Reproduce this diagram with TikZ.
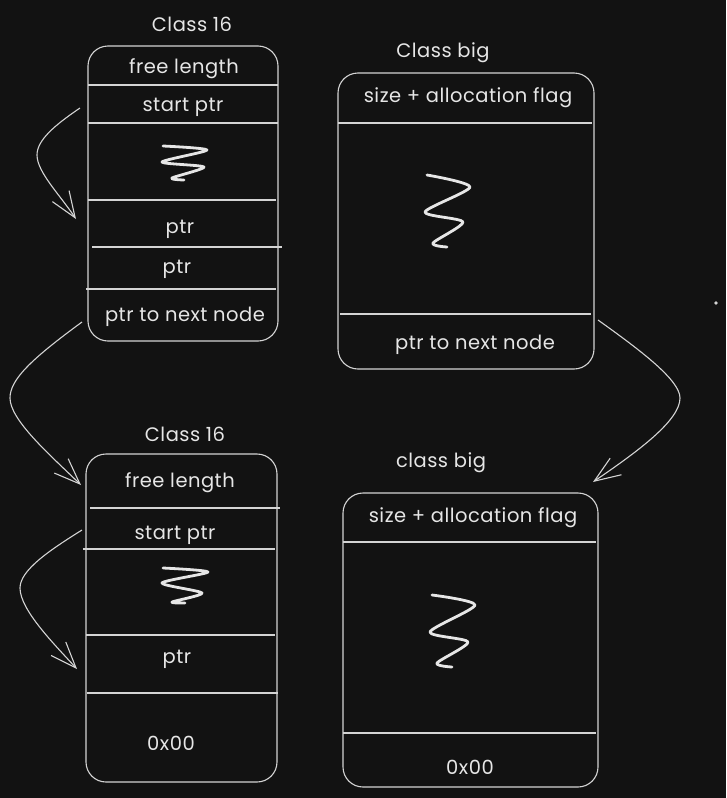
\documentclass[tikz,border=0pt]{standalone}
\usepackage{fontspec}
\setmainfont{Poppins}[LetterSpace=2.5]
\usetikzlibrary{arrows.meta}
\definecolor{bg}{HTML}{121212}
\definecolor{ink}{HTML}{D4D4D4}
\definecolor{txt}{HTML}{E6E6E6}
\tikzset{
  box/.style={draw=ink, line width=1.1pt, rounded corners=20pt, inner sep=0pt, fill=none},
  divider/.style={draw=ink, line width=1.1pt},
  lbl/.style={text=txt, font=\fontsize{19.5}{21}\selectfont, inner sep=0pt},
  squig/.style={draw=txt, line width=2.8pt, line cap=round, line join=round},
  link/.style={draw=ink, line width=1.1pt, -{Straight Barb[length=26pt,width=20pt,line width=1.1pt]}},
}
\begin{document}
\begin{tikzpicture}[x=1pt,y=-1pt]
\fill[bg] (0,0) rectangle (726,798);
\useasboundingbox (0,0) rectangle (726,798);

% ---------- Box 1: Class 16 (top) ----------
\node[box, minimum width=190pt, minimum height=295pt] (b1) at (183,193.5) {};
\node[lbl] (t1) at (192,24) {Class 16};
\draw[divider] (88,85) -- (278,85);
\draw[divider] (88,123) -- (278,123);
\draw[divider] (88,200) -- (276,200);
\draw[divider] (92,247) -- (282,247);
\draw[divider] (86,289) -- (276,289);
\node[lbl] (b1a) at (184,69) {free length};
\node[lbl] (b1b) at (183,107) {start ptr};
\node[lbl] (b1c) at (180,229) {ptr};
\node[lbl] (b1d) at (177,269) {ptr};
\node[lbl] (b1e) at (185,317) {ptr to next node};
\draw[squig] plot[smooth, tension=0.45] coordinates {(163,146) (207,150) (162,162) (204,167) (172,178) (184,180)};

% ---------- Box 2: Class big (top) ----------
\node[box, minimum width=256pt, minimum height=296pt] (b2) at (466,221) {};
\node[lbl] (t2) at (443,53) {Class big};
\draw[divider] (338,123) -- (592,123);
\draw[divider] (340,314) -- (591,314);
\node[lbl] (b2a) at (468,98) {size + allocation flag};
\node[lbl] (b2e) at (475,345) {ptr to next node};
\draw[squig] plot[smooth, tension=0.45] coordinates {(427,175) (470,187) (425,212) (463,222) (433,243) (447,247)};

% ---------- Box 3: Class 16 (bottom) ----------
\node[box, minimum width=191pt, minimum height=328pt] (b3) at (181.5,618) {};
\node[lbl] (t3) at (185,434) {Class 16};
\draw[divider] (90,508) -- (280,508);
\draw[divider] (83,549) -- (275,549);
\draw[divider] (86,635) -- (275,635);
\draw[divider] (87,693) -- (278,693);
\node[lbl] (b3a) at (180,483) {free length};
\node[lbl] (b3b) at (175,535) {start ptr};
\node[lbl] (b3c) at (177,659) {ptr};
\node[lbl] (b3e) at (171,743) {0x00};
\draw[squig] plot[smooth, tension=0.45] coordinates {(163,568) (208,572) (162,583) (202,593) (172,602) (185,603)};

% ---------- Box 4: class big (bottom) ----------
\node[box, minimum width=255pt, minimum height=294pt] (b4) at (470.5,640) {};
\node[lbl] (t4) at (441,463) {class big};
\draw[divider] (343,542) -- (596,542);
\draw[divider] (343,733) -- (596,733);
\node[lbl] (b4a) at (473,518) {size + allocation flag};
\node[lbl] (b4e) at (470,767) {0x00};
\draw[squig] plot[smooth, tension=0.45] coordinates {(432,595) (475,605) (430,632) (468,642) (437,663) (452,667)};

% stray dot
\fill[ink] (716,303) circle (1.8pt);

% ---------- connectors ----------
\coordinate (s1) at (80,108);
\coordinate (e1) at (76,219);
\coordinate (s2) at (82,322);
\coordinate (e2) at (81,485);
\coordinate (s3) at (598,320);
\coordinate (e3) at (593,482);
\coordinate (s4) at (82,530);
\coordinate (e4) at (77,669);

\draw[link] (s1) .. controls (55,125) and (37,140) .. (37,155) .. controls (37,172) and (60,195) .. (e1);
\draw[link] (s2) .. controls (30,360) and (10,380) .. (10,398) .. controls (10,420) and (50,455) .. (e2);
\draw[link] (s3) .. controls (640,350) and (680,380) .. (680,398) .. controls (680,420) and (640,450) .. (e3);
\draw[link] (s4) .. controls (50,550) and (20,570) .. (20,588) .. controls (20,610) and (55,645) .. (e4);
\end{tikzpicture}
\end{document}
